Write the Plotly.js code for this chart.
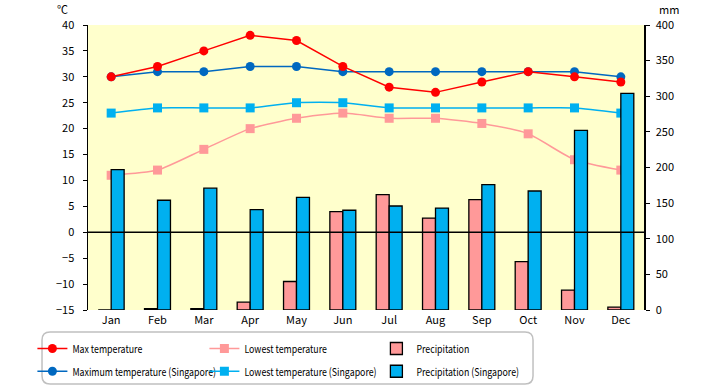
<!DOCTYPE html>
<html>
<head>
<meta charset="utf-8">
<script src="https://cdn.plot.ly/plotly-3.0.1.min.js"></script>
<style>
html,body{margin:0;padding:0;background:#fff;}
#chart{width:720px;height:385px;}
</style>
</head>
<body>
<div id="chart"></div>
<script>
const months = ["Jan","Feb","Mar","Apr","May","Jun","Jul","Aug","Sep","Oct","Nov","Dec"];
const maxTemp = [30,32,35,38,37,32,28,27,29,31,30,29];
const lowTemp = [11,12,16,20,22,23,22,22,21,19,14,12];
const precip = [0,2,2,11,40,138,162,129,155,68,28,4];
const maxTempSG = [30,31,31,32,32,31,31,31,31,31,31,30];
const lowTempSG = [23,24,24,24,25,25,24,24,24,24,24,23];
const precipSG = [197,154,171,141,158,140,146,143,176,167,252,304];

const FONT = "'Noto Sans CJK JP', 'Liberation Sans', Arial, sans-serif";

const traces = [
  {type:'bar', x:months, y:precip, yaxis:'y2', name:'Precipitation', legend:'legend', legendrank:3,
   marker:{color:'#ff9999', line:{color:'#000', width:1.3}}},
  {type:'bar', x:months, y:precipSG, yaxis:'y2', name:'Precipitation (Singapore)', legend:'legend2', legendrank:3,
   marker:{color:'#00b0f0', line:{color:'#000', width:1.3}}},
  {type:'scatter', mode:'lines+markers', x:months, y:lowTemp, name:'Lowest temperature', legend:'legend', legendrank:2,
   line:{color:'#ff9999', width:1.5, shape:'spline', smoothing:0.6}, marker:{symbol:'square', size:9, color:'#ff9999'}},
  {type:'scatter', mode:'lines+markers', x:months, y:lowTempSG, name:'Lowest temperature (Singapore)', legend:'legend2', legendrank:2,
   line:{color:'#00b0f0', width:1.5, shape:'spline', smoothing:0.6}, marker:{symbol:'square', size:9, color:'#00b0f0'}},
  {type:'scatter', mode:'lines+markers', x:months, y:maxTempSG, name:'Maximum temperature (Singapore)', legend:'legend2', legendrank:1,
   line:{color:'#0068c0', width:1.5}, marker:{symbol:'circle', size:9, color:'#0068c0'}},
  {type:'scatter', mode:'lines+markers', x:months, y:maxTemp, name:'Max temperature', legend:'legend', legendrank:1,
   line:{color:'#ff0000', width:1.5}, marker:{symbol:'circle', size:9, color:'#ff0000'}}
];

const legendBase = {orientation:'h', xanchor:'left', yanchor:'middle', bgcolor:'rgba(0,0,0,0)',
  borderwidth:0, font:{family:FONT, size:11, color:'#000'}, entrywidth:127, traceorder:'normal',
  itemwidth:30};

const layout = {
  width:720, height:385,
  margin:{l:88, r:76, t:25, b:75, autoexpand:false},
  paper_bgcolor:'#ffffff', plot_bgcolor:'#ffffcc',
  font:{family:FONT, size:11, color:'#000'},
  barmode:'group', bargap:0.44, bargroupgap:0,
  showlegend:true,
  xaxis:{type:'category', range:[-0.5,11.5], showline:false, ticks:'', showgrid:false, zeroline:false,
    tickfont:{family:FONT, size:11}, ticklabelstandoff:2},
  yaxis:{range:[-15,40], dtick:5, showgrid:false, zeroline:false, showline:true, linecolor:'#000', linewidth:1.5,
    ticks:'outside', ticklen:4, tickcolor:'#000', tickfont:{family:FONT, size:11}, ticklabelstandoff:6},
  yaxis2:{range:[0,400], dtick:50, overlaying:'y', side:'right', showgrid:false, zeroline:false, showline:true,
    linecolor:'#000', linewidth:1.5, ticks:'outside', ticklen:4, tickcolor:'#000', tickfont:{family:FONT, size:11}, ticklabelstandoff:4},
  legend:Object.assign({}, legendBase, {x:-0.1, y:-0.135}),
  legend2:Object.assign({}, legendBase, {x:-0.1, y:-0.215}),
  shapes:[
    {type:'line', xref:'paper', yref:'y', x0:0, x1:1, y0:0, y1:0, line:{color:'#000', width:1.5}, layer:'above'},
    {type:'path', xref:'paper', yref:'paper', layer:'below',
     path:'M -0.0683,-0.0772 L 0.7860,-0.0772 Q 0.8004,-0.0772 0.8004,-0.1053 L 0.8004,-0.2315 Q 0.8004,-0.2596 0.7860,-0.2596 L -0.0683,-0.2596 Q -0.0827,-0.2596 -0.0827,-0.2315 L -0.0827,-0.1053 Q -0.0827,-0.0772 -0.0683,-0.0772 Z',
     line:{color:'#c0c0c0', width:1.5}, fillcolor:'rgba(0,0,0,0)'}
  ],
  annotations:[
    {text:'℃', xref:'paper', yref:'paper', x:-0.046, y:1.056, showarrow:false, xanchor:'center', yanchor:'middle', font:{family:FONT, size:11}},
    {text:'mm', xref:'paper', yref:'paper', x:1.045, y:1.056, showarrow:false, xanchor:'center', yanchor:'middle', font:{family:FONT, size:11}}
  ]
};

const gd = document.getElementById('chart');
function condenseLegend(){
  // narrow gothic look of the original legend labels
  gd.querySelectorAll('.infolayer g[class*="legend"] text').forEach(function(t){
    if (!t.dataset.w) t.dataset.w = t.getComputedTextLength();
    t.setAttribute('lengthAdjust', 'spacingAndGlyphs');
    t.setAttribute('textLength', (parseFloat(t.dataset.w) * 0.8).toFixed(1));
  });
}
Plotly.newPlot(gd, traces, layout, {displayModeBar:false, staticPlot:true}).then(function(){
  condenseLegend();
  gd.on('plotly_afterplot', condenseLegend);
  setTimeout(condenseLegend, 0);
  setTimeout(condenseLegend, 50);
});
</script>
</body>
</html>
